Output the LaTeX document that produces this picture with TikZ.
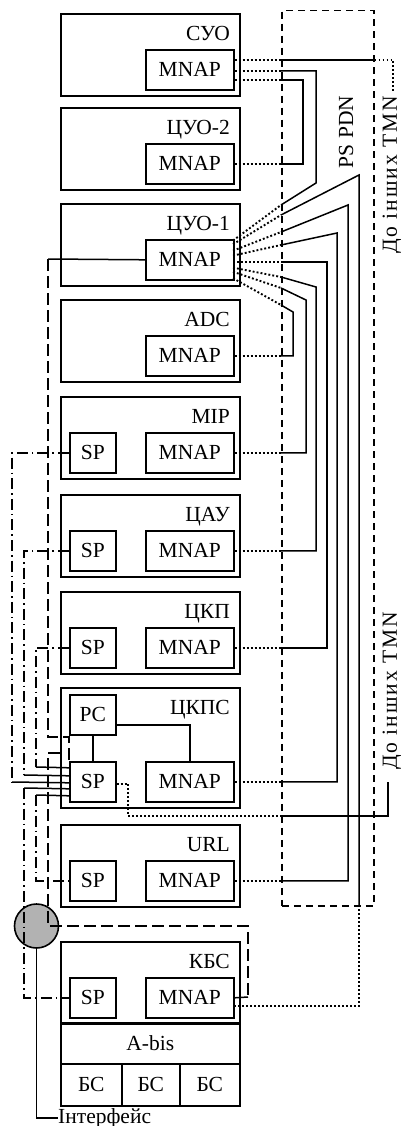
\documentclass[tikz,border=0pt]{standalone}
\usepackage{fontspec}
\setmainfont{Liberation Serif}
\usetikzlibrary{calc}

\tikzset{
  unit/.style={draw, line width=1.6pt, anchor=north west, minimum width=179pt,
               minimum height=82pt, inner sep=0pt},
  blk/.style={draw, line width=1.6pt, anchor=north west, minimum height=40pt, inner sep=0pt},
  mnap/.style={blk, minimum width=88pt},
  spbox/.style={blk, minimum width=46pt},
  cell/.style={draw, line width=1.6pt, anchor=north west, minimum height=42pt, inner sep=0pt},
  lbl/.style={anchor=base east, inner sep=0pt},
  wire/.style={line width=1.5pt},
  dotln/.style={line width=1.9pt, dash pattern=on 1.9pt off 2.1pt},
  dashln/.style={line width=1.5pt, dash pattern=on 12pt off 5pt},
  dashdot/.style={line width=1.4pt, dash pattern=on 11pt off 4pt on 1.6pt off 4pt},
}

\begin{document}
\begin{tikzpicture}[x=1pt, y=-1pt, font=\fontsize{21.5}{25}\selectfont]
\useasboundingbox (0,0) rectangle (400,1126);

% PS PDN
\node[draw, line width=1.5pt, dash pattern=on 7pt off 5pt, anchor=north west,
      minimum width=92pt, minimum height=895pt, inner sep=0pt] (pdn) at (281,10) {};
\node[rotate=90] (pdnl) at (346,132) {PS PDN};
\node[rotate=90] (tmna) at (392,175) {\addfontfeature{LetterSpace=9}До інших TMN};
\node[rotate=90] (tmnb) at (392,691) {\addfontfeature{LetterSpace=9}До інших TMN};

% blocks
\foreach \nm/\lab/\y in {suo/СУО/13, cuob/ЦУО-2/107, cuoa/ЦУО-1/203, adc/ADC/299,
                         mip/MIP/396, cau/ЦАУ/494, ckp/ЦКП/591, url/URL/824, kbs/КБС/941}{
  \node[unit] (\nm) at (60,\y) {};
  \node[lbl] (\nm-l) at (230,\y+27.5) {\lab};
  \node[mnap] (\nm-m) at (145,\y+36) {MNAP};
}
\foreach \nm/\y in {mip/396, cau/494, ckp/591, url/824, kbs/941}
  \node[spbox] (\nm-s) at (69,\y+36) {SP};

% ЦКПС
\node[unit, minimum height=120pt] (ckps) at (60,687) {};
\node[lbl] (ckps-l) at (230,714.5) {ЦКПС};
\node[spbox] (pc) at (69,694) {PC};
\node[spbox] (ckps-s) at (69,761) {SP};
\node[mnap] (ckps-m) at (145,761) {MNAP};
\draw[wire] (pc) -- (ckps-s);
\draw[wire] ($(pc.east)+(0,10)$) -| (ckps-m.north);

% КБС
\node[cell, minimum width=179pt, minimum height=41pt] (abis) at (60,1022) {A-bis};
\node[cell, minimum width=61pt] (bs1) at (60,1063) {БС};
\node[cell, minimum width=58pt] (bs2) at (121,1063) {БС};
\node[cell, minimum width=60pt] (bs3) at (179,1063) {БС};

\node[circle, draw, line width=1.6pt, fill=gray!60, minimum size=44pt, inner sep=0pt] (hub) at (36.5,926) {};

% PS PDN links
\coordinate (fc) at (204,262);
\foreach \k/\yf in {1/205,2/215,3/232,4/245,5/262,6/277,7/288,8/305}{
  \coordinate (f\k) at (281,\yf);
  \draw[dotln] ($(fc)!0.377!(f\k)$) -- (f\k);
}
\coordinate (t1) at (281,60);
\coordinate (t2) at (281,71);
\coordinate (t3) at (281,80);
\foreach \k in {1,2,3}
  \draw[dotln] (suo-m.east |- t\k) -- (t\k);
\coordinate (tmn1) at (393,92);
\draw[wire] (t1) -- (t1 -| pdn.east);
\draw[dotln] (t1 -| pdn.east) -| (tmn1);
\draw[wire] (t2) -| (316,183) -- (f1);
\draw[dotln] (cuob-m.east) -- (cuob-m.east -| pdn.west);
\draw[wire] (cuob-m.east -| pdn.west) -| (303,80) -- (t3);
\foreach \k/\nm/\vx/\vy in {3/url/348/205, 4/ckps/337/233, 5/ckp/327/262,
                            6/cau/316/287, 7/mip/306/300, 8/adc/293/312}{
  \draw[dotln] (\nm-m.east) -- (\nm-m.east -| pdn.west);
  \draw[wire] (\nm-m.east -| pdn.west) -| (\vx,\vy) -- (f\k);
}
\draw[wire] (f2) -- (359,175) -- (359,905);
\draw[dotln] (359,905) |- ($(kbs-m.east)+(0,8)$);

\coordinate (b1) at (281,816);
\coordinate (tmn2) at (388,782);
\draw[dotln] ($(ckps-s.east)+(0,2)$) -| (128,816) -- (b1);
\draw[wire, line width=2pt] (b1) -| (tmn2);

% left side
\draw[wire] (cuoa-m.west) -- (48,259) coordinate (q1);
\draw[dashln] (q1) |- ($(ckps-s.north west)+(0,-24)$) -- (ckps-s.north west);
\draw[dashln] (60,753) -| (48,926) -- (248,926) -- (248,997);
\draw[wire] (248,997) -- (kbs-m.east);

\draw[dashdot] (mip-s.west) -| (12,782);
\draw[wire] (12,782) -- ($(ckps-s.west)+(0,1)$);
\draw[dashdot] (cau-s.west) -| (24,775);
\draw[wire] (24,775) -- ($(ckps-s.west)+(0,-6)$);
\draw[dashdot] (ckp-s.west) -| (36,767);
\draw[wire] (36,767) -- ($(ckps-s.west)+(0,-14)$);
\draw[wire] ($(ckps-s.west)+(0,7)$) -- (24,788);
\draw[dashdot] (24,788) |- (kbs-s.west);
\draw[wire] ($(ckps-s.west)+(0,14)$) -- (36,795);
\draw[dashdot] (36,795) |- (url-s.west);

\node[anchor=west, inner sep=0pt] (intf) at (58,1118) {Інтерфейс};
\draw[wire] (hub.south) |- (intf.west);
\end{tikzpicture}
\end{document}
